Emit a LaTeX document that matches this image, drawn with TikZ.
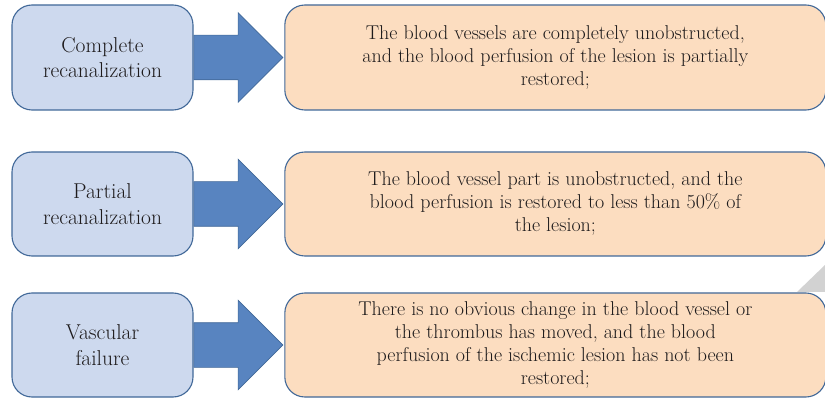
\documentclass[tikz,border=0pt]{standalone}
\usepackage{tikz}
\usetikzlibrary{positioning}
\usetikzlibrary{shapes.arrows}
\definecolor{stage fill}{RGB}{205,217,238}
\definecolor{result fill}{RGB}{252,221,192}
\definecolor{box border}{RGB}{65,104,152}
\definecolor{arrow fill}{RGB}{88,132,192}
\definecolor{fold gray}{RGB}{210,210,210}
\definecolor{ink}{RGB}{30,27,28}
\tikzstyle{stage} = [draw = box border, fill = stage fill, line width = 1.1pt, rounded corners = 20pt,
                     minimum width = 181pt, align = center, text = ink,
                     font = \fontsize{21.5}{25.5}\selectfont]
\tikzstyle{result} = [stage, fill = result fill, minimum width = 541pt,
                      font = \fontsize{20}{23}\selectfont]
\tikzstyle{big arrow} = [single arrow, draw = box border, fill = arrow fill, line width = .6pt,
                         minimum height = 89pt, inner xsep = 0pt, inner ysep = 22pt,
                         single arrow head extend = 22.5pt]
\tikzstyle{diagram picture} = [x = 1pt, y = -1pt]

\begin{document}
\begin{tikzpicture}[diagram picture]
        \useasboundingbox (0, 0) rectangle (825, 398);
        \fill [fold gray] (797, 292) -- (825, 265) -- (825, 292) -- cycle;

        \foreach \i/\y/\h/\stage/\result in {
            1/57.5/105/{Complete\\recanalization}/{The blood vessels are completely unobstructed,\\and the blood perfusion of the lesion is partially\\restored;},
            2/204/104/{Partial\\recanalization}/{The blood vessel part is unobstructed, and the\\blood perfusion is restored to less than 50\% of\\the lesion;},
            3/345/104/{Vascular\\failure}/{There is no obvious change in the blood vessel or\\the thrombus has moved, and the blood\\perfusion of the ischemic lesion has not been\\restored;}}
        {
            \node [stage, minimum height = \h] (stage_\i) at (102.5, \y) {\stage};
            \node [big arrow, right = 0pt of stage_\i] (arrow_\i) {};
            \node [result, minimum height = \h, right = 1pt of arrow_\i] (result_\i) {\result};
        }
    \end{tikzpicture}
\end{document}
